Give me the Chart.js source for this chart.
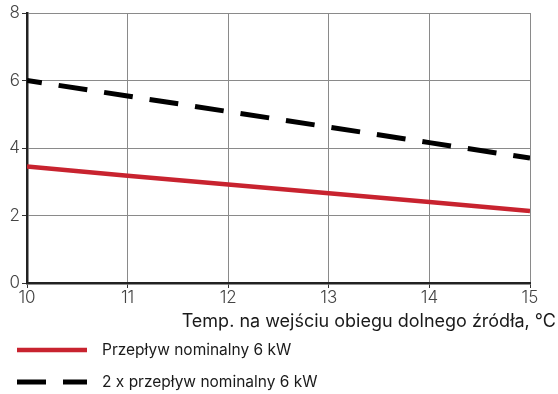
<!DOCTYPE html>
<html>
<head>
<meta charset="utf-8">
<script src="https://cdn.jsdelivr.net/npm/chart.js@4/dist/chart.umd.min.js"></script>
<style>
  html, body { margin: 0; padding: 0; background: #fff; }
  #wrap { width: 558px; height: 394px; position: relative; }
</style>
</head>
<body>
<div id="wrap"><canvas id="myChart"></canvas></div>
<script>
// --------------------
// Data
// --------------------
const temps = [10, 11, 12, 13, 14, 15];
const nominalFlow = [3.45, 3.18, 2.92, 2.66, 2.40, 2.13];
const doubleFlow = [6.0, 5.54, 5.08, 4.62, 4.16, 3.70];
const seriesLabels = ["Przepływ nominalny 6 kW", "2 x przepływ nominalny 6 kW"];
const xTitle = "Temp. na wejściu obiegu dolnego źródła, °C";

const fontFamily = "Inter, 'Noto Sans', sans-serif";

// Axis title + stacked legend under the plot
const bottomLegend = {
  id: "bottomLegend",
  afterDraw(chart) {
    const ctx = chart.ctx;
    ctx.save();
    ctx.fillStyle = "#1a1a1a";
    ctx.font = "18px " + fontFamily;
    ctx.textAlign = "right";
    ctx.textBaseline = "middle";
    ctx.fillText(xTitle, 556, 322);

    ctx.textAlign = "left";
    ctx.font = "15.5px " + fontFamily;
    chart.data.datasets.forEach((ds, i) => {
      const y = 350 + i * 32;
      ctx.beginPath();
      ctx.strokeStyle = ds.borderColor;
      ctx.lineWidth = ds.borderWidth;
      ctx.lineCap = "butt";
      ctx.setLineDash(ds.borderDash || []);
      ctx.moveTo(17, y);
      ctx.lineTo(87, y);
      ctx.stroke();
      ctx.setLineDash([]);
      ctx.fillStyle = "#1a1a1a";
      ctx.fillText(ds.label, 102, y);
    });
    ctx.restore();
  }
};

const ctx = document.getElementById("myChart").getContext("2d");

new Chart(ctx, {
  type: "line",
  data: {
    labels: temps,
    datasets: [
      {
        label: seriesLabels[0],
        data: nominalFlow,
        borderColor: "#c8232f",
        borderWidth: 4.5,
        pointRadius: 0,
        tension: 0
      },
      {
        label: seriesLabels[1],
        data: doubleFlow,
        borderColor: "#000",
        borderWidth: 5,
        borderDash: [29, 17],
        borderDashOffset: 14,
        pointRadius: 0,
        tension: 0
      }
    ]
  },
  options: {
    responsive: true,
    maintainAspectRatio: false,
    animation: false,
    layout: { padding: { left: 0, right: 28, top: 13, bottom: 0 } },
    scales: {
      x: {
        type: "linear",
        min: 10,
        max: 15,
        afterFit: (s) => { s.height = 111; },
        ticks: {
          stepSize: 1,
          color: "#444",
          font: { family: fontFamily, size: 17, weight: 300 },
          padding: 0,
          maxRotation: 0
        },
        grid: { color: "#8a8a8a", lineWidth: 1, tickColor: "#333", tickLength: 5 },
        border: { color: "#222", width: 2.5 }
      },
      y: {
        min: 0,
        max: 8,
        afterFit: (s) => { s.width = 27; },
        ticks: {
          stepSize: 2,
          color: "#444",
          font: { family: fontFamily, size: 17, weight: 300 },
          padding: 2
        },
        grid: { color: "#8a8a8a", lineWidth: 1, tickColor: "#333", tickLength: 5 },
        border: { color: "#222", width: 2.5 }
      }
    },
    plugins: {
      legend: { display: false },
      tooltip: { enabled: false }
    }
  },
  plugins: [bottomLegend]
});
</script>
</body>
</html>
